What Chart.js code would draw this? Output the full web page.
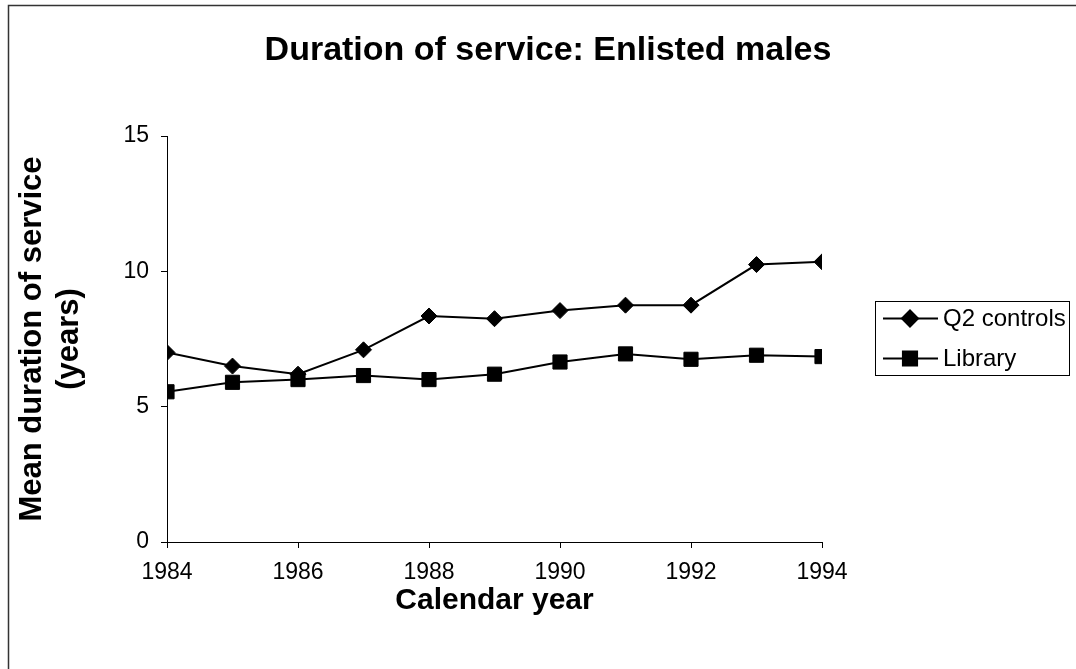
<!DOCTYPE html>
<html>
<head>
<meta charset="utf-8">
<title>Duration of service: Enlisted males</title>
<script src="https://cdn.jsdelivr.net/npm/chart.js@4/dist/chart.umd.min.js"></script>
<style>
  html, body { margin: 0; padding: 0; background: #fff; }
  #wrap { position: relative; width: 1076px; height: 669px; }
  canvas { display: block; }
</style>
</head>
<body>
<div id="wrap"><canvas id="chart" width="1076" height="669"></canvas></div>
<script>
// Calendar years on the x axis
const years = [1984, 1985, 1986, 1987, 1988, 1989, 1990, 1991, 1992, 1993, 1994];
// Mean duration of service (years)
const q2Controls = [7.0, 6.5, 6.2, 7.1, 8.35, 8.25, 8.55, 8.75, 8.75, 10.25, 10.35];
const library    = [5.55, 5.9, 6.0, 6.15, 6.0, 6.2, 6.65, 6.95, 6.75, 6.9, 6.85];
const seriesNames = ['Q2 controls', 'Library'];
const xTicks = [1984, 1986, 1988, 1990, 1992, 1994];
const yTicks = [0, 5, 10, 15];

const FONT = 'Arial, "Liberation Sans", Helvetica, sans-serif';
const INK = '#000';

const toPoints = vals => vals.map((v, i) => ({ x: years[i], y: v }));

// Outer frame, title and boxed legend drawn around the plot
const decorations = {
  id: 'decorations',
  beforeDraw(chart) {
    const ctx = chart.ctx;
    ctx.save();
    ctx.strokeStyle = '#333';
    ctx.lineWidth = 1.5;
    ctx.beginPath();
    ctx.moveTo(8.5, 669);
    ctx.lineTo(8.5, 5.5);
    ctx.lineTo(1076, 5.5);
    ctx.stroke();
    ctx.restore();
  },
  afterDraw(chart) {
    const ctx = chart.ctx;
    ctx.save();
    // title
    ctx.fillStyle = INK;
    ctx.font = 'bold 34px ' + FONT;
    ctx.textAlign = 'center';
    ctx.textBaseline = 'middle';
    ctx.fillText('Duration of service: Enlisted males', 548, 51);

    // legend box
    const bx = 875.5, by = 301.5, bw = 194, bh = 74;
    ctx.strokeStyle = INK;
    ctx.lineWidth = 1;
    ctx.strokeRect(bx, by, bw, bh);
    ctx.font = '24px ' + FONT;
    ctx.textAlign = 'left';
    chart.data.datasets.forEach((ds, i) => {
      const cy = by + 17 + i * 40;
      ctx.strokeStyle = INK;
      ctx.lineWidth = 2;
      ctx.beginPath();
      ctx.moveTo(883, cy);
      ctx.lineTo(938, cy);
      ctx.stroke();
      ctx.fillStyle = INK;
      Chart.helpers.drawPoint(ctx, {
        pointStyle: ds.pointStyle,
        radius: ds.pointRadius,
        borderWidth: 1
      }, 910, cy);
      ctx.fill();
      ctx.fillStyle = INK;
      ctx.fillText(ds.label, 943, cy + 1);
    });
    ctx.restore();
  }
};

new Chart(document.getElementById('chart'), {
  type: 'line',
  data: {
    datasets: [
      {
        label: seriesNames[0],
        data: toPoints(q2Controls),
        borderColor: INK,
        backgroundColor: INK,
        borderWidth: 2,
        pointStyle: 'rectRot',
        pointRadius: 8,
        pointBorderWidth: 1,
        tension: 0
      },
      {
        label: seriesNames[1],
        data: toPoints(library),
        borderColor: INK,
        backgroundColor: INK,
        borderWidth: 2,
        pointStyle: 'rect',
        pointRadius: 10,
        pointBorderWidth: 1,
        tension: 0
      }
    ]
  },
  options: {
    responsive: false,
    animation: false,
    layout: { padding: { left: 8, right: 254, top: 136, bottom: 10 } },
    plugins: {
      legend: { display: false },
      title: { display: false },
      tooltip: { enabled: false }
    },
    scales: {
      x: {
        type: 'linear',
        min: years[0],
        max: years[years.length - 1],
        afterBuildTicks: s => { s.ticks = xTicks.map(v => ({ value: v })); },
        afterFit: s => { s.height = 669 - 542 - 10; },
        ticks: {
          color: INK,
          font: { family: FONT, size: 23 },
          padding: 11,
          maxRotation: 0,
          callback: v => String(v)
        },
        grid: { drawOnChartArea: false, drawTicks: true, tickLength: 6, color: INK, lineWidth: 1 },
        border: { color: INK, width: 1 },
        title: {
          display: true,
          text: 'Calendar year',
          color: INK,
          font: { family: FONT, size: 30, weight: 'bold' },
          padding: { top: 0, bottom: 40 }
        }
      },
      y: {
        min: 0,
        max: 15,
        afterBuildTicks: s => { s.ticks = yTicks.map(v => ({ value: v })); },
        afterFit: s => { s.width = 167 - 8; },
        ticks: {
          color: INK,
          font: { family: FONT, size: 23 },
          padding: 12
        },
        grid: { drawOnChartArea: false, drawTicks: true, tickLength: 6, color: INK, lineWidth: 1 },
        border: { color: INK, width: 1 },
        title: {
          display: true,
          text: ['Mean duration of service', '(years)'],
          color: INK,
          font: { family: FONT, size: 31, weight: 'bold' },
          padding: { top: 6, bottom: 0 }
        }
      }
    }
  },
  plugins: [decorations]
});
</script>
</body>
</html>
